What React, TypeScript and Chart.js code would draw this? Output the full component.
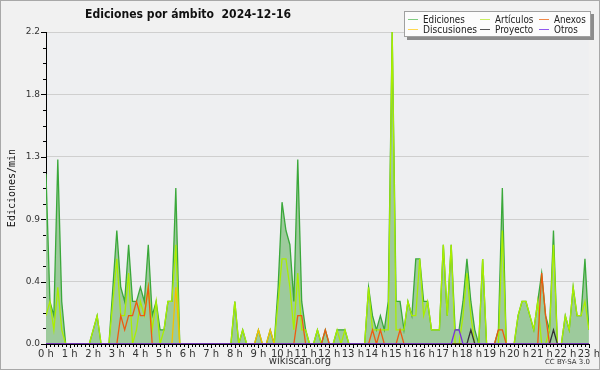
import React, { useEffect, useRef } from 'react';
import { Chart, registerables } from 'chart.js';

Chart.register(...registerables);

// 10-minute samples from 0 h to 23 h (one row per hour)
const ediciones: number[] = [
  1.2, 0.3, 0.2, 1.3, 0.3, 0,     // 0 h
  0, 0, 0, 0, 0, 0,               // 1 h
  0.1, 0.2, 0, 0, 0, 0.4,         // 2 h
  0.8, 0.4, 0.3, 0.7, 0.3, 0.3,   // 3 h
  0.4, 0.3, 0.7, 0.2, 0.3, 0.1,   // 4 h
  0.1, 0.3, 0.3, 1.1, 0, 0,       // 5 h
  0, 0, 0, 0, 0, 0,               // 6 h
  0, 0, 0, 0, 0, 0,               // 7 h
  0.3, 0, 0.1, 0, 0, 0,           // 8 h
  0.1, 0, 0, 0.1, 0, 0.4,         // 9 h
  1.0, 0.8, 0.7, 0.3, 1.3, 0.3,   // 10 h
  0.1, 0, 0, 0.1, 0, 0.1,         // 11 h
  0, 0, 0.1, 0.1, 0.1, 0,         // 12 h
  0, 0, 0, 0, 0.4, 0.2,           // 13 h
  0.1, 0.2, 0.1, 0.3, 2.2, 0.3,   // 14 h
  0.3, 0.1, 0.3, 0.2, 0.6, 0.6,   // 15 h
  0.3, 0.3, 0.1, 0.1, 0.1, 0.7,   // 16 h
  0.2, 0.7, 0.1, 0.1, 0.3, 0.6,   // 17 h
  0.3, 0.1, 0, 0.6, 0, 0,         // 18 h
  0, 0.1, 1.1, 0, 0, 0,           // 19 h
  0.2, 0.3, 0.3, 0.2, 0.1, 0.3,   // 20 h
  0.5, 0.2, 0.1, 0.8, 0, 0,       // 21 h
  0.2, 0.1, 0.4, 0.2, 0.2, 0.6,   // 22 h
  0.1,                            // 23 h
];

const articulos: number[] = [
  0.2, 0.3, 0.1, 0.4, 0.1, 0,
  0, 0, 0, 0, 0, 0,
  0.1, 0.2, 0, 0, 0, 0.3,
  0.6, 0.2, 0.2, 0.5, 0, 0.1,
  0.3, 0.2, 0.4, 0.1, 0.3, 0,
  0.1, 0.3, 0.3, 0.7, 0, 0,
  0, 0, 0, 0, 0, 0,
  0, 0, 0, 0, 0, 0,
  0.3, 0, 0.1, 0, 0, 0,
  0, 0, 0, 0, 0, 0.3,
  0.6, 0.6, 0.4, 0.1, 0.5, 0.1,
  0.1, 0, 0, 0.1, 0, 0,
  0, 0, 0.1, 0, 0.1, 0,
  0, 0, 0, 0, 0.4, 0.1,
  0.1, 0.1, 0.1, 0.1, 2.2, 0.1,
  0.1, 0.1, 0.3, 0.2, 0.2, 0.6,
  0.2, 0.3, 0.1, 0.1, 0.1, 0.7,
  0.2, 0.7, 0, 0, 0.2, 0.5,
  0.2, 0, 0, 0.6, 0, 0,
  0, 0, 0.8, 0, 0, 0,
  0.2, 0.3, 0.3, 0.2, 0.1, 0.3,
  0, 0, 0.1, 0.7, 0, 0,
  0.2, 0.1, 0.4, 0.2, 0.2, 0.3,
  0.1,
];

const anexos: number[] = [
  0, 0, 0, 0, 0, 0,
  0, 0, 0, 0, 0, 0,
  0, 0, 0, 0, 0, 0,
  0, 0.2, 0.1, 0.2, 0.2, 0.3,
  0.2, 0.2, 0.4, 0, 0, 0,
  0, 0, 0, 0, 0, 0,
  0, 0, 0, 0, 0, 0,
  0, 0, 0, 0, 0, 0,
  0, 0, 0, 0, 0, 0,
  0, 0, 0, 0, 0, 0,
  0, 0, 0, 0, 0.2, 0.2,
  0, 0, 0, 0, 0, 0.1,
  0, 0, 0, 0, 0, 0,
  0, 0, 0, 0, 0, 0.1,
  0, 0.1, 0, 0, 0, 0,
  0.1, 0, 0, 0, 0, 0,
  0, 0, 0, 0, 0, 0,
  0, 0, 0, 0, 0, 0,
  0, 0, 0, 0, 0, 0,
  0, 0.1, 0.1, 0, 0, 0,
  0, 0, 0, 0, 0, 0,
  0.5, 0.2, 0, 0, 0, 0,
  0, 0, 0, 0, 0, 0,
  0,
];

const discusiones: number[] = [
  0, 0, 0, 0, 0, 0,
  0, 0, 0, 0, 0, 0,
  0, 0, 0, 0, 0, 0,
  0, 0, 0, 0, 0, 0,
  0, 0, 0, 0, 0, 0,
  0, 0, 0, 0.4, 0, 0,
  0, 0, 0, 0, 0, 0,
  0, 0, 0, 0, 0, 0,
  0, 0, 0, 0, 0, 0,
  0.1, 0, 0, 0.1, 0, 0,
  0, 0, 0, 0, 0, 0,
  0, 0, 0, 0, 0, 0,
  0, 0, 0, 0, 0, 0,
  0, 0, 0, 0, 0, 0,
  0, 0, 0, 0, 0, 0,
  0, 0, 0, 0, 0, 0,
  0, 0, 0, 0, 0, 0,
  0, 0, 0, 0, 0, 0,
  0, 0, 0, 0, 0, 0,
  0, 0, 0, 0, 0, 0,
  0, 0, 0, 0, 0, 0,
  0, 0, 0, 0, 0, 0,
  0, 0, 0, 0, 0, 0,
  0,
];

const proyecto: number[] = [
  0, 0, 0, 0, 0, 0,
  0, 0, 0, 0, 0, 0,
  0, 0, 0, 0, 0, 0,
  0, 0, 0, 0, 0, 0,
  0, 0, 0, 0, 0, 0,
  0, 0, 0, 0, 0, 0,
  0, 0, 0, 0, 0, 0,
  0, 0, 0, 0, 0, 0,
  0, 0, 0, 0, 0, 0,
  0, 0, 0, 0, 0, 0,
  0, 0, 0, 0, 0, 0,
  0, 0, 0, 0, 0, 0,
  0, 0, 0, 0, 0, 0,
  0, 0, 0, 0, 0, 0,
  0, 0, 0, 0, 0, 0,
  0, 0, 0, 0, 0, 0,
  0, 0, 0, 0, 0, 0,
  0, 0, 0, 0, 0, 0,
  0.1, 0, 0, 0, 0, 0,
  0, 0, 0, 0, 0, 0,
  0, 0, 0, 0, 0, 0,
  0, 0, 0, 0.1, 0, 0,
  0, 0, 0, 0, 0, 0,
  0,
];

const otros: number[] = [
  0, 0, 0, 0, 0, 0,
  0, 0, 0, 0, 0, 0,
  0, 0, 0, 0, 0, 0,
  0, 0, 0, 0, 0, 0,
  0, 0, 0, 0, 0, 0,
  0, 0, 0, 0, 0, 0,
  0, 0, 0, 0, 0, 0,
  0, 0, 0, 0, 0, 0,
  0, 0, 0, 0, 0, 0,
  0, 0, 0, 0, 0, 0,
  0, 0, 0, 0, 0, 0,
  0, 0, 0, 0, 0, 0,
  0, 0, 0, 0, 0, 0,
  0, 0, 0, 0, 0, 0,
  0, 0, 0, 0, 0, 0,
  0, 0, 0, 0, 0, 0,
  0, 0, 0, 0, 0, 0,
  0, 0, 0.1, 0.1, 0, 0,
  0, 0, 0, 0, 0, 0,
  0, 0, 0, 0, 0, 0,
  0, 0, 0, 0, 0, 0,
  0, 0, 0, 0, 0, 0,
  0, 0, 0, 0, 0, 0,
  0,
];

const TITLE = 'Ediciones por ámbito  2024-12-16';
const Y_TITLE = 'Ediciones/min';
const FOOTER = 'wikiscan.org';
const LICENSE = 'CC BY-SA 3.0';
const X_MAX_HOURS = 23;
const SAMPLES_PER_HOUR = 6;
const Y_MAX = 2.2;
const Y_MINOR = 0.11;

const series = [
  { label: 'Ediciones', data: ediciones, color: '#3aa83a', swatch: '#80cc80', order: 6 },
  { label: 'Artículos', data: articulos, color: '#aaee00', swatch: '#c8ee60', order: 5 },
  { label: 'Anexos', data: anexos, color: '#ee5a10', swatch: '#f08848', order: 3 },
  { label: 'Discusiones', data: discusiones, color: '#f2c200', swatch: '#ffd850', order: 4 },
  { label: 'Proyecto', data: proyecto, color: '#333333', swatch: '#555555', order: 2 },
  { label: 'Otros', data: otros, color: '#7a30e0', swatch: '#9058ee', order: 1 },
];

const hourOf = (i: number) => i / SAMPLES_PER_HOUR;

const decorPlugin = {
  id: 'decor',
  beforeDraw(chart: any) {
    const { ctx, chartArea, width, height } = chart;
    ctx.save();
    ctx.fillStyle = '#f1f1f1';
    ctx.fillRect(0, 0, width, height);
    ctx.fillStyle = '#eeeff1';
    ctx.fillRect(chartArea.left, chartArea.top, chartArea.right - chartArea.left, chartArea.bottom - chartArea.top);
    ctx.restore();
  },
  afterDraw(chart: any) {
    const { ctx, chartArea, width, height } = chart;
    const xs = chart.scales.x;
    const ys = chart.scales.y;
    ctx.save();
    // tick marks
    ctx.strokeStyle = '#000';
    ctx.lineWidth = 1;
    ctx.beginPath();
    const nX = X_MAX_HOURS * SAMPLES_PER_HOUR;
    for (let i = 0; i <= nX; i++) {
      const px = Math.round(xs.getPixelForValue(hourOf(i))) + 0.5;
      const len = i % SAMPLES_PER_HOUR === 0 ? 4 : 3;
      ctx.moveTo(px, chartArea.bottom);
      ctx.lineTo(px, chartArea.bottom + len);
    }
    const nY = Math.round(Y_MAX / Y_MINOR);
    for (let i = 0; i <= nY; i++) {
      const py = Math.round(ys.getPixelForValue(Math.round(i * Y_MINOR * 100) / 100)) + 0.5;
      const len = i % 4 === 0 ? 5 : 3;
      ctx.moveTo(chartArea.left - len, py);
      ctx.lineTo(chartArea.left, py);
    }
    ctx.stroke();

    // title
    ctx.fillStyle = '#111';
    ctx.font = 'bold 13px "DejaVu Sans"';
    ctx.textAlign = 'left';
    ctx.textBaseline = 'alphabetic';
    ctx.fillText(TITLE, 85, 18, 206);

    // y title
    ctx.save();
    ctx.translate(12, (chartArea.top + chartArea.bottom) / 2);
    ctx.rotate(-Math.PI / 2);
    ctx.font = '10px "DejaVu Sans Mono"';
    ctx.textAlign = 'center';
    ctx.textBaseline = 'middle';
    ctx.fillStyle = '#111';
    ctx.fillText(Y_TITLE, 0, 0);
    ctx.restore();

    // footer
    ctx.font = '10px "DejaVu Sans"';
    ctx.textAlign = 'center';
    ctx.textBaseline = 'middle';
    ctx.fillStyle = '#333';
    ctx.fillText(FOOTER, 300, 361);
    ctx.font = '7px "DejaVu Sans"';
    ctx.textAlign = 'right';
    ctx.fillText(LICENSE, 590, 362);

    // legend
    const bx = 404, by = 11, bw = 187, bh = 26;
    ctx.fillStyle = '#8c8c8c';
    ctx.fillRect(bx + 3, by + 3, bw, bh);
    ctx.fillStyle = '#fcfcfc';
    ctx.fillRect(bx, by, bw, bh);
    ctx.strokeStyle = '#a0a0a0';
    ctx.strokeRect(bx + 0.5, by + 0.5, bw - 1, bh - 1);
    const cols = [408, 480, 539];
    const maxW = [54, 41, 33];
    const rows = [19, 29];
    const layout = [
      ['Ediciones', 'Artículos', 'Anexos'],
      ['Discusiones', 'Proyecto', 'Otros'],
    ];
    ctx.font = '10px "DejaVu Sans"';
    ctx.textAlign = 'left';
    ctx.textBaseline = 'middle';
    layout.forEach((row, r) => {
      row.forEach((name, c) => {
        const s = series.find((q) => q.label === name)!;
        const y = rows[r] + 0.5;
        ctx.strokeStyle = s.swatch;
        ctx.beginPath();
        ctx.moveTo(cols[c], y);
        ctx.lineTo(cols[c] + 10, y);
        ctx.stroke();
        ctx.fillStyle = '#222';
        const natural = ctx.measureText(name).width;
        const scaleW = Math.min(1, (maxW[c] * (name.length / 11 + 0.0)) / natural);
        const target = Math.min(natural, name === 'Discusiones' ? 54 : natural * 0.88);
        ctx.fillText(name, cols[c] + 15, rows[r] + 1, Math.min(target, maxW[c]) || natural * scaleW);
      });
    });

    // outer frame
    ctx.strokeStyle = '#a8a8a8';
    ctx.strokeRect(0.5, 0.5, width - 1, height - 1);
    ctx.restore();
  },
};

export default function App() {
  const ref = useRef<HTMLCanvasElement | null>(null);
  useEffect(() => {
    document.body.style.margin = '0';
    const canvas = ref.current!;
    const datasets = series.map((s) => ({
      label: s.label,
      data: s.data.map((v, i) => ({ x: hourOf(i), y: v })),
      borderColor: s.color,
      borderWidth: 1.3,
      backgroundColor: s.label === 'Ediciones' ? '#9dca9c' : 'transparent',
      fill: s.label === 'Ediciones' ? 'origin' : false,
      pointRadius: 0,
      tension: 0,
      order: s.order,
    }));
    const chart = new Chart(canvas, {
      type: 'line',
      data: { datasets },
      options: {
        animation: false,
        responsive: false,
        devicePixelRatio: 1,
        layout: { padding: { top: 32, right: 10, left: 0, bottom: 0 } },
        plugins: {
          legend: { display: false },
          tooltip: { enabled: false },
          title: { display: false },
        },
        scales: {
          x: {
            type: 'linear',
            min: 0,
            max: X_MAX_HOURS,
            z: 1,
            afterBuildTicks: (s: any) => {
              s.ticks = Array.from({ length: X_MAX_HOURS + 1 }, (_, h) => ({ value: h }));
            },
            afterFit: (s: any) => { s.height = 26; },
            ticks: {
              autoSkip: false,
              maxRotation: 0,
              minRotation: 0,
              padding: 0,
              color: '#333',
              font: { family: 'DejaVu Sans', size: 10 },
              callback: (v: any) => `${Math.round(Number(v))} h`,
            },
            grid: { drawOnChartArea: false, drawTicks: true, tickLength: 4, tickColor: 'rgba(0,0,0,0)' },
            border: { display: true, color: '#000', width: 1 },
          },
          y: {
            type: 'linear',
            min: 0,
            max: Y_MAX,
            z: 1,
            afterBuildTicks: (s: any) => {
              s.ticks = Array.from({ length: 6 }, (_, i) => ({ value: Math.round(i * 4 * Y_MINOR * 100) / 100 }));
            },
            afterFit: (s: any) => { s.width = 46; },
            ticks: {
              padding: 1,
              color: '#333',
              font: { family: 'DejaVu Sans', size: 9 },
              callback: (v: any) => Number(v).toFixed(1),
            },
            grid: {
              color: (c: any) => (c.index > 0 ? '#cfcfcf' : 'rgba(0,0,0,0)'),
              drawTicks: true,
              tickLength: 5,
              tickColor: 'rgba(0,0,0,0)',
            },
            border: { display: true, color: '#000', width: 1 },
          },
        },
      } as any,
      plugins: [decorPlugin],
    });
    return () => chart.destroy();
  }, []);
  return <canvas ref={ref} width={600} height={370} style={{ display: 'block' }} />;
}
